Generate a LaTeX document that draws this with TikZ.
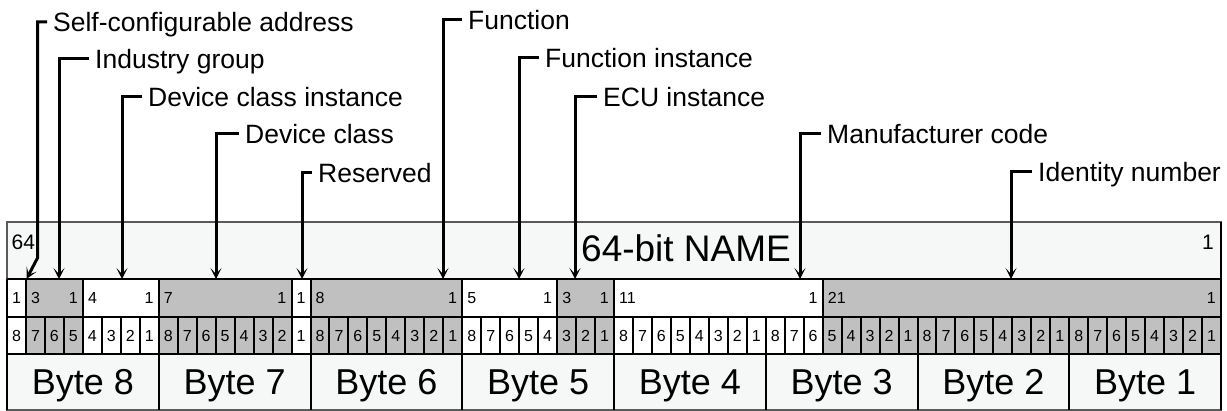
\documentclass[tikz,border=0pt]{standalone}
\usepackage{fontspec}
\setmainfont{Liberation Sans}
\usetikzlibrary{arrows.meta}
\definecolor{fieldgray}{RGB}{192,192,192}
\definecolor{bgpale}{RGB}{246,248,248}
\definecolor{framegray}{RGB}{90,90,90}
\begin{document}
\begin{tikzpicture}[x=1pt,y=-1pt,
  cellline/.style={draw=black,line width=2pt},
  frameline/.style={draw=framegray,line width=1.2pt},
  numsmall/.style={font=\fontsize{16}{16}\selectfont,inner sep=0pt},
  numtop/.style={font=\fontsize{21}{21}\selectfont,inner sep=0pt},
  bigtext/.style={font=\fontsize{36}{36}\selectfont,inner sep=0pt},
  lbltext/.style={font=\fontsize{26.5}{26.5}\selectfont,inner sep=0pt,anchor=base west},
  arrowline/.style={draw=black,line width=3pt,line join=miter,-{Stealth[length=11pt,width=11pt,inset=6pt]}}
]
\useasboundingbox (0,0) rectangle (1227,411);
\def\w{18.96875}
% background
\fill[bgpale] (7,222) rectangle (1221,410);
% fields
\foreach \msb/\lsb/\fil [count=\i] in {64/64/white,63/61/fieldgray,60/57/white,56/50/fieldgray,49/49/white,48/41/fieldgray,40/36/white,35/33/fieldgray,32/22/white,21/1/fieldgray}{
  \pgfmathsetmacro\xa{7+(64-\msb)*\w}
  \pgfmathsetmacro\xb{7+(65-\lsb)*\w}
  \fill[\fil] (\xa,279) rectangle (\xb,354);
}
% frame
\draw[frameline] (7,222) rectangle (1221,410);
% row lines
\draw[cellline] (7,279) -- (1221,279);
\draw[cellline] (7,317) -- (1221,317);
\draw[cellline] (7,354) -- (1221,354);
\draw[cellline] (7,279) -- (7,354);
\draw[cellline] (1221,222) -- (1221,410);
% field separators and numbers
\foreach \msb/\lsb [count=\i] in {64/64,63/61,60/57,56/50,49/49,48/41,40/36,35/33,32/22,21/1}{
  \pgfmathsetmacro\xa{7+(64-\msb)*\w}
  \pgfmathsetmacro\xb{7+(65-\lsb)*\w}
  \pgfmathtruncatemacro\n{\msb-\lsb+1}
  \draw[cellline] (\xb,279) -- (\xb,317);
  \ifnum\msb=\lsb
    \node[numsmall,anchor=base] (fa\i) at ({(\xa+\xb)/2},304) {1};
  \else
    \node[numsmall,anchor=base west] (fa\i) at (\xa+5,304) {\n};
    \node[numsmall,anchor=base east] (fb\i) at (\xb-5,304) {1};
  \fi
}
% bit row
\foreach \c in {0,...,63}{
  \pgfmathsetmacro\xa{7+\c*\w}
  \pgfmathsetmacro\xb{7+(\c+1)*\w}
  \pgfmathtruncatemacro\b{mod(63-\c,8)+1}
  \draw[cellline] (\xb,317) -- (\xb,354);
  \node[numsmall,anchor=base] (bit\c) at ({(\xa+\xb)/2},341.5) {\b};
}
% bytes
\foreach \k in {0,...,7}{
  \pgfmathsetmacro\xa{7+\k*8*\w}
  \pgfmathsetmacro\xb{7+(\k+1)*8*\w}
  \pgfmathtruncatemacro\bn{8-\k}
  \draw[cellline] (\xb,354) -- (\xb,410);
  \node[bigtext,anchor=base] (byte\bn) at ({(\xa+\xb)/2},395) {Byte \bn};
}
\draw[cellline] (7,354) -- (7,410);
% top row texts
\node[numtop,anchor=base west] (top64) at (11.5,250) {64};
\node[numtop,anchor=base east] (top1) at (1214,249.5) {1};
\node[bigtext,anchor=base west,font=\fontsize{37}{37}\selectfont] (title) at (581,262) {64-bit NAME};
% arrow targets
\coordinate (t1) at (26.5,279);
\coordinate (bend1) at (37.5,258);
\coordinate (t2) at (59,279);
\coordinate (t3) at (122,279);
\coordinate (t4) at (216,279);
\coordinate (t5) at (302,279);
\coordinate (t6) at (443,279);
\coordinate (t7) at (519,279);
\coordinate (t8) at (575,279);
\coordinate (t9) at (800,279);
\coordinate (t10) at (1011,279);
% labels
\node[lbltext] (l1) at (53,32) {Self-configurable address};
\node[lbltext] (l2) at (95,69) {Industry group};
\node[lbltext] (l3) at (148,107) {Device class instance};
\node[lbltext] (l4) at (245,144) {Device class};
\node[lbltext] (l5) at (318,183) {Reserved};
\node[lbltext] (l6) at (468,30) {Function};
\node[lbltext] (l7) at (545,68) {Function instance};
\node[lbltext] (l8) at (603,107) {ECU instance};
\node[lbltext] (l9) at (827,144) {Manufacturer code};
\node[lbltext] (l10) at (1038,182) {Identity number};
% connectors
\draw[arrowline] (l1.base west) ++(-6,-10) -| (bend1) -- (t1);
\foreach \i in {2,...,10}{
  \draw[arrowline] (l\i.base west) ++(-6,-10) -| (t\i);
}
\end{tikzpicture}
\end{document}
